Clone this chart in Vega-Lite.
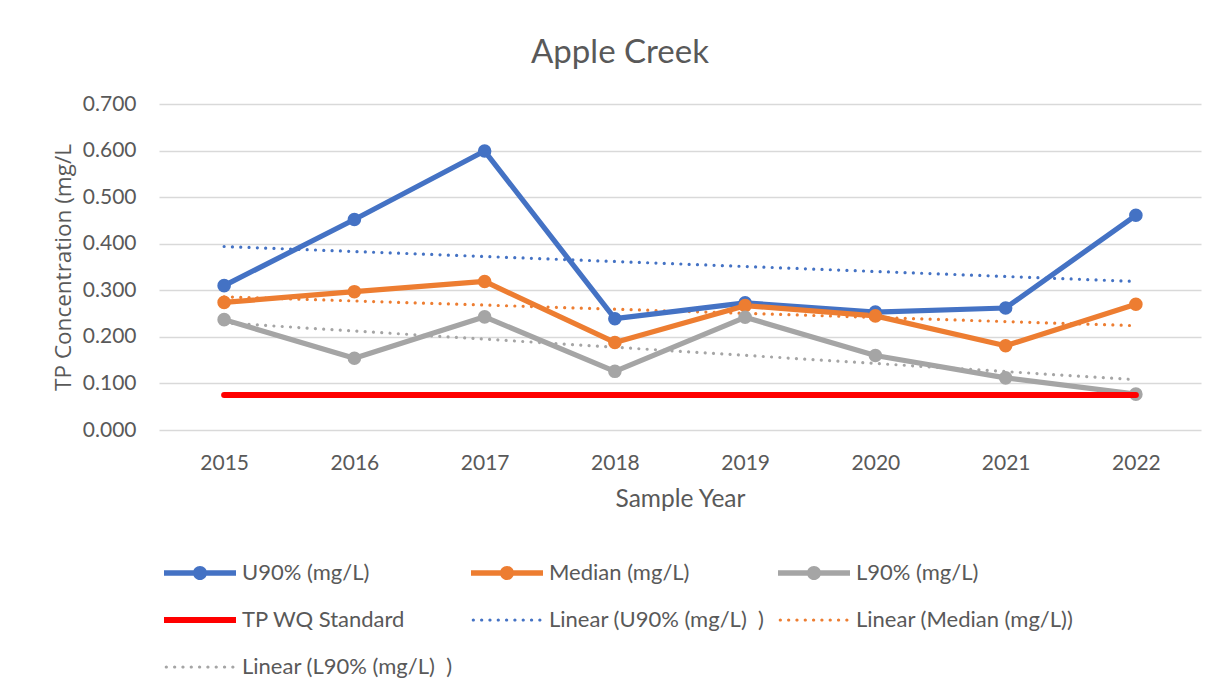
{
  "$schema": "https://vega.github.io/schema/vega-lite/v6.json",
  "width": 1042,
  "height": 326,
  "autosize": "none",
  "padding": {"left": 159, "top": 104, "right": 24, "bottom": 263},
  "background": "white",
  "title": {
    "text": "Apple Creek",
    "font": "Lato",
    "fontSize": 33,
    "fontWeight": "normal",
    "color": "#595959",
    "anchor": "middle",
    "frame": "group",
    "dx": -60,
    "baseline": "alphabetic",
    "offset": -3
  },
  "config": {
    "view": {"stroke": null},
    "font": "Lato"
  },
  "data": {
    "values": [
      {"kind": "main", "series": "U90% (mg/L)", "year": "2015", "value": 0.310},
      {"kind": "main", "series": "U90% (mg/L)", "year": "2016", "value": 0.452},
      {"kind": "main", "series": "U90% (mg/L)", "year": "2017", "value": 0.599},
      {"kind": "main", "series": "U90% (mg/L)", "year": "2018", "value": 0.239},
      {"kind": "main", "series": "U90% (mg/L)", "year": "2019", "value": 0.273},
      {"kind": "main", "series": "U90% (mg/L)", "year": "2020", "value": 0.253},
      {"kind": "main", "series": "U90% (mg/L)", "year": "2021", "value": 0.262},
      {"kind": "main", "series": "U90% (mg/L)", "year": "2022", "value": 0.461},
      {"kind": "main", "series": "Median (mg/L)", "year": "2015", "value": 0.274},
      {"kind": "main", "series": "Median (mg/L)", "year": "2016", "value": 0.297},
      {"kind": "main", "series": "Median (mg/L)", "year": "2017", "value": 0.319},
      {"kind": "main", "series": "Median (mg/L)", "year": "2018", "value": 0.188},
      {"kind": "main", "series": "Median (mg/L)", "year": "2019", "value": 0.267},
      {"kind": "main", "series": "Median (mg/L)", "year": "2020", "value": 0.245},
      {"kind": "main", "series": "Median (mg/L)", "year": "2021", "value": 0.181},
      {"kind": "main", "series": "Median (mg/L)", "year": "2022", "value": 0.270},
      {"kind": "main", "series": "L90% (mg/L)", "year": "2015", "value": 0.237},
      {"kind": "main", "series": "L90% (mg/L)", "year": "2016", "value": 0.154},
      {"kind": "main", "series": "L90% (mg/L)", "year": "2017", "value": 0.243},
      {"kind": "main", "series": "L90% (mg/L)", "year": "2018", "value": 0.126},
      {"kind": "main", "series": "L90% (mg/L)", "year": "2019", "value": 0.242},
      {"kind": "main", "series": "L90% (mg/L)", "year": "2020", "value": 0.160},
      {"kind": "main", "series": "L90% (mg/L)", "year": "2021", "value": 0.112},
      {"kind": "main", "series": "L90% (mg/L)", "year": "2022", "value": 0.077},
      {"kind": "std", "series": "TP WQ Standard", "year": "2015", "value": 0.075},
      {"kind": "std", "series": "TP WQ Standard", "year": "2016", "value": 0.075},
      {"kind": "std", "series": "TP WQ Standard", "year": "2017", "value": 0.075},
      {"kind": "std", "series": "TP WQ Standard", "year": "2018", "value": 0.075},
      {"kind": "std", "series": "TP WQ Standard", "year": "2019", "value": 0.075},
      {"kind": "std", "series": "TP WQ Standard", "year": "2020", "value": 0.075},
      {"kind": "std", "series": "TP WQ Standard", "year": "2021", "value": 0.075},
      {"kind": "std", "series": "TP WQ Standard", "year": "2022", "value": 0.075},
      {"kind": "trend", "series": "Linear (U90% (mg/L)\u00a0\u00a0)", "year": "2015", "value": 0.394},
      {"kind": "trend", "series": "Linear (U90% (mg/L)\u00a0\u00a0)", "year": "2022", "value": 0.319},
      {"kind": "trend", "series": "Linear (Median (mg/L))", "year": "2015", "value": 0.286},
      {"kind": "trend", "series": "Linear (Median (mg/L))", "year": "2022", "value": 0.224},
      {"kind": "trend", "series": "Linear (L90% (mg/L)\u00a0\u00a0)", "year": "2015", "value": 0.230},
      {"kind": "trend", "series": "Linear (L90% (mg/L)\u00a0\u00a0)", "year": "2022", "value": 0.108}
    ]
  },
  "encoding": {
    "x": {
      "field": "year",
      "type": "ordinal",
      "scale": {"type": "point", "padding": 0.5, "domain": ["2015","2016","2017","2018","2019","2020","2021","2022"]},
      "axis": {
        "title": "Sample Year",
        "titleFont": "Lato",
        "titleFontSize": 24.5,
        "titleFontWeight": "normal",
        "titleColor": "#595959",
        "titleBaseline": "alphabetic",
        "titleY": 76,
        "labelAngle": 0,
        "labelFont": "Lato",
        "labelFontSize": 21,
        "labelColor": "#595959",
        "labelPadding": 22,
        "ticks": false,
        "tickSize": 0,
        "domain": false,
        "grid": false
      }
    },
    "y": {
      "field": "value",
      "type": "quantitative",
      "scale": {"domain": [0, 0.7], "nice": false, "zero": true},
      "axis": {
        "title": "TP Concentration (mg/L",
        "titleFont": "Open Sans",
        "titleFontSize": 22.5,
        "titleFontWeight": "normal",
        "titleColor": "#595959",
        "titleBaseline": "alphabetic",
        "titleX": -89,
        "titleY": 163,
        "titleAngle": -90,
        "titleAnchor": "middle",
        "values": [0, 0.1, 0.2, 0.3, 0.4, 0.5, 0.6, 0.7],
        "format": ".3f",
        "labelFont": "Lato",
        "labelFontSize": 21,
        "labelColor": "#595959",
        "labelPadding": 23,
        "ticks": false,
        "tickSize": 0,
        "domain": false,
        "grid": true,
        "gridColor": "#D9D9D9",
        "gridWidth": 1.5
      }
    }
  },
  "layer": [
    {
      "transform": [{"filter": "datum.value < 0"}],
      "mark": {"type": "point", "filled": true, "opacity": 1},
      "encoding": {
        "color": {
          "field": "series",
          "type": "nominal",
          "scale": {
            "domain": ["U90% (mg/L)", "Median (mg/L)", "L90% (mg/L)", "TP WQ Standard", "Linear (U90% (mg/L)\u00a0\u00a0)", "Linear (Median (mg/L))", "Linear (L90% (mg/L)\u00a0\u00a0)"],
            "range": ["#4472C4", "#ED7D31", "#A5A5A5", "#FF0000", "#4472C4", "#ED7D31", "#A5A5A5"]
          },
          "legend": {
            "title": null,
            "orient": "none",
            "direction": "horizontal",
            "legendX": 5,
            "legendY": 433,
            "columns": 3,
            "gridAlign": "all",
            "columnPadding": 11,
            "rowPadding": -0.5,
            "symbolSize": 5184,
            "symbolStrokeWidth": 0,
            "symbolOpacity": 1,
            "labelFont": "Lato",
            "labelFontSize": 22,
            "labelColor": "#595959",
            "labelOffset": 6,
            "labelLimit": 400
          }
        },
        "shape": {
          "field": "series",
          "type": "nominal",
          "scale": {
            "domain": ["U90% (mg/L)", "Median (mg/L)", "L90% (mg/L)", "TP WQ Standard", "Linear (U90% (mg/L)\u00a0\u00a0)", "Linear (Median (mg/L))", "Linear (L90% (mg/L)\u00a0\u00a0)"],
            "range": [
              "M-1,-0.075H1V0.075H-1Z M-0.195,0A0.195,0.195 0 1,1 0.195,0A0.195,0.195 0 1,1 -0.195,0Z",
              "M-1,-0.075H1V0.075H-1Z M-0.195,0A0.195,0.195 0 1,1 0.195,0A0.195,0.195 0 1,1 -0.195,0Z",
              "M-1,-0.075H1V0.075H-1Z M-0.195,0A0.195,0.195 0 1,1 0.195,0A0.195,0.195 0 1,1 -0.195,0Z",
              "M-1,-0.085H1V0.085H-1Z",
              "M-0.98,0A0.045,0.045 0 1,1 -0.89,0A0.045,0.045 0 1,1 -0.98,0Z M-0.749,0A0.045,0.045 0 1,1 -0.659,0A0.045,0.045 0 1,1 -0.749,0Z M-0.518,0A0.045,0.045 0 1,1 -0.428,0A0.045,0.045 0 1,1 -0.518,0Z M-0.287,0A0.045,0.045 0 1,1 -0.197,0A0.045,0.045 0 1,1 -0.287,0Z M-0.056,0A0.045,0.045 0 1,1 0.034,0A0.045,0.045 0 1,1 -0.056,0Z M0.175,0A0.045,0.045 0 1,1 0.265,0A0.045,0.045 0 1,1 0.175,0Z M0.406,0A0.045,0.045 0 1,1 0.496,0A0.045,0.045 0 1,1 0.406,0Z M0.637,0A0.045,0.045 0 1,1 0.727,0A0.045,0.045 0 1,1 0.637,0Z M0.868,0A0.045,0.045 0 1,1 0.958,0A0.045,0.045 0 1,1 0.868,0Z",
              "M-0.98,0A0.045,0.045 0 1,1 -0.89,0A0.045,0.045 0 1,1 -0.98,0Z M-0.749,0A0.045,0.045 0 1,1 -0.659,0A0.045,0.045 0 1,1 -0.749,0Z M-0.518,0A0.045,0.045 0 1,1 -0.428,0A0.045,0.045 0 1,1 -0.518,0Z M-0.287,0A0.045,0.045 0 1,1 -0.197,0A0.045,0.045 0 1,1 -0.287,0Z M-0.056,0A0.045,0.045 0 1,1 0.034,0A0.045,0.045 0 1,1 -0.056,0Z M0.175,0A0.045,0.045 0 1,1 0.265,0A0.045,0.045 0 1,1 0.175,0Z M0.406,0A0.045,0.045 0 1,1 0.496,0A0.045,0.045 0 1,1 0.406,0Z M0.637,0A0.045,0.045 0 1,1 0.727,0A0.045,0.045 0 1,1 0.637,0Z M0.868,0A0.045,0.045 0 1,1 0.958,0A0.045,0.045 0 1,1 0.868,0Z",
              "M-0.98,0A0.045,0.045 0 1,1 -0.89,0A0.045,0.045 0 1,1 -0.98,0Z M-0.749,0A0.045,0.045 0 1,1 -0.659,0A0.045,0.045 0 1,1 -0.749,0Z M-0.518,0A0.045,0.045 0 1,1 -0.428,0A0.045,0.045 0 1,1 -0.518,0Z M-0.287,0A0.045,0.045 0 1,1 -0.197,0A0.045,0.045 0 1,1 -0.287,0Z M-0.056,0A0.045,0.045 0 1,1 0.034,0A0.045,0.045 0 1,1 -0.056,0Z M0.175,0A0.045,0.045 0 1,1 0.265,0A0.045,0.045 0 1,1 0.175,0Z M0.406,0A0.045,0.045 0 1,1 0.496,0A0.045,0.045 0 1,1 0.406,0Z M0.637,0A0.045,0.045 0 1,1 0.727,0A0.045,0.045 0 1,1 0.637,0Z M0.868,0A0.045,0.045 0 1,1 0.958,0A0.045,0.045 0 1,1 0.868,0Z"
            ]
          }
        }
      }
    },
    {
      "transform": [{"filter": "datum.kind == 'trend'"}],
      "mark": {"type": "line", "strokeWidth": 3.2, "strokeCap": "round", "strokeDash": [0.01, 8.3]},
      "encoding": {
        "color": {"field": "series", "type": "nominal", "legend": null}
      }
    },
    {
      "transform": [{"filter": "datum.kind == 'main'"}],
      "mark": {"type": "line", "strokeWidth": 5.2, "strokeCap": "round", "strokeJoin": "round", "point": {"filled": true, "size": 185, "opacity": 1}},
      "encoding": {
        "color": {"field": "series", "type": "nominal", "legend": null}
      }
    },
    {
      "transform": [{"filter": "datum.kind == 'std'"}],
      "mark": {"type": "line", "strokeWidth": 6, "strokeCap": "round"},
      "encoding": {
        "color": {"field": "series", "type": "nominal", "legend": null}
      }
    }
  ]
}
